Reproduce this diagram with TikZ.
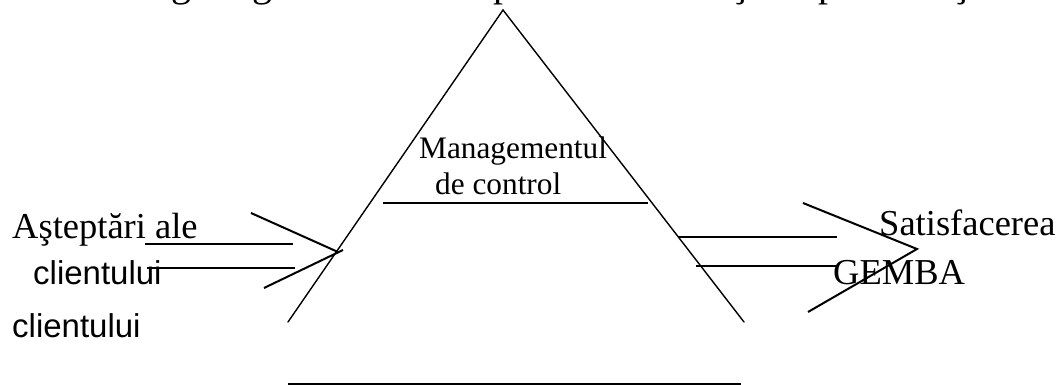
\documentclass[tikz,border=0pt]{standalone}
\usepackage{fontspec}
\setmainfont{Liberation Serif}
\newfontfamily\arialf{Liberation Sans}
\begin{document}
\begin{tikzpicture}[x=1pt,y=-1pt,
  tri/.style={line width=1.4pt, line cap=round},
  arr/.style={line width=2pt},
  tms/.style={inner sep=0pt, anchor=base west, font=\fontsize{36.5}{40}\selectfont},
  mgt/.style={inner sep=0pt, anchor=base west, font=\fontsize{31.3}{34}\selectfont},
  arl/.style={inner sep=0pt, anchor=base west, font=\arialf\fontsize{33}{36}\selectfont},
  ttl/.style={inner sep=0pt, anchor=base, font=\fontsize{40}{44}\selectfont}]
\useasboundingbox (0,0) rectangle (1061,385);
% clipped title line (only descenders visible)
\begin{scope}
\clip (0,0) rectangle (1061,385);
\node[ttl] (t1) at (181,-3) {g};
\node[ttl] (t2) at (262,-3) {g};
\node[ttl] (t3) at (503,-3) {p};
\node[ttl] (t4) at (741,-3) {ş};
\node[ttl] (t5) at (828,-3) {p};
\node[ttl] (t6) at (962,-3) {ş};
\end{scope}
% triangle
\coordinate (apex) at (503,10);
\coordinate (lf) at (288,322);
\coordinate (rf) at (744,322);
\draw[tri] (lf) -- (apex) -- (rf);
\coordinate (b1) at (288,384);
\coordinate (b2) at (741,384);
\draw[arr] (b1) -- (b2);
% management line
\coordinate (m1) at (383,203);
\coordinate (m2) at (648,203);
\draw[arr] (m1) -- (m2);
\node[mgt] (mg) at (419,159) {Managementul};
\node[mgt] (dc) at (435,195) {de control};
% left input arrow
\coordinate (la1) at (145,244);
\coordinate (la2) at (293,244);
\coordinate (lb1) at (147,268);
\coordinate (lb2) at (295,268);
\draw[arr] (la1) -- (la2);
\draw[arr] (lb1) -- (lb2);
\coordinate (lh1) at (251,213);
\coordinate (ltip) at (338,252);
\coordinate (lh2) at (264,288);
\coordinate (ltip2) at (343,250);
\draw[arr] (lh1) -- (ltip);
\draw[arr] (lh2) -- (ltip2);
% right output arrow
\coordinate (ra1) at (678,237);
\coordinate (ra2) at (837,237);
\coordinate (rb1) at (696,266);
\coordinate (rb2) at (836,266);
\draw[arr] (ra1) -- (ra2);
\draw[arr] (rb1) -- (rb2);
\coordinate (rh1) at (803,203);
\coordinate (rtip) at (917,249);
\coordinate (rh2) at (808,312);
\draw[arr] (rh1) -- (rtip) -- (rh2);
% texts
\node[tms] (asp) at (12,238) {Aşteptări ale};
\node[arl] (cl1) at (33,284) {clientului};
\node[arl] (cl2) at (12,337) {clientului};
\node[tms] (sat) at (879,235) {Satisfacerea};
\node[tms] (gem) at (833,284) {GEMBA};
\end{tikzpicture}
\end{document}
